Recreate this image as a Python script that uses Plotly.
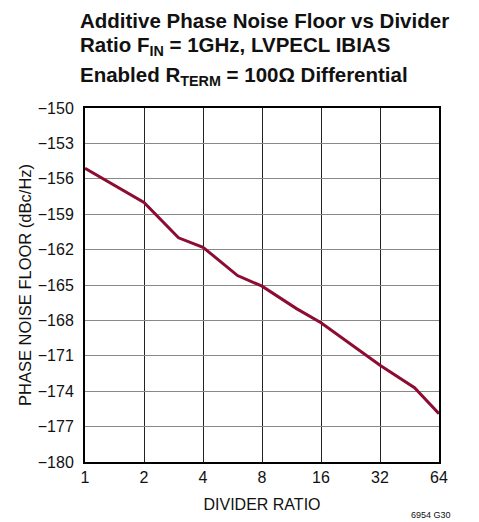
import plotly.graph_objects as go

divider = [1, 2, 3, 4, 6, 8, 12, 16, 32, 48, 64]
noise = [-155.1, -158.0, -161.0, -161.8, -164.2, -165.1, -167.0, -168.2, -171.8, -173.7, -175.9]

x_ticks = [1, 2, 4, 8, 16, 32, 64]
y_ticks = list(range(-180, -149, 3))
y_labels = [str(v).replace("-", "\u2212") for v in y_ticks]

title_lines = [
    "<b>Additive Phase Noise Floor vs Divider</b>",
    "<b>Ratio F<sub>IN</sub> = 1GHz, LVPECL IBIAS</b>",
    "<b>Enabled R<sub>TERM</sub> = 100Ω Differential</b>",
]

FONT = "Liberation Sans Narrow, Arial Narrow, Liberation Sans, Arial"

# page body has an 8px margin, so the figure is offset by (8, 8)
W, H = 471, 514
L, R, T, B = 77, 40, 100, 60
PH = H - T - B


def py(screen_y):
    f = screen_y - 8
    return (H - B - f) / PH


def px(screen_x):
    f = screen_x - 8
    return (f - L) / (W - L - R)


fig = go.Figure()
fig.add_trace(go.Scatter(x=divider, y=noise, mode="lines",
                         line=dict(color="#8C0C32", width=3)))

annotations = []
for txt, yc in zip(title_lines, [20, 46, 76]):
    annotations.append(dict(text=txt, xref="paper", yref="paper",
                            x=px(78), y=py(yc), xanchor="left", yanchor="middle",
                            showarrow=False,
                            font=dict(family=FONT, size=20.5, color="#111")))
annotations.append(dict(text="6954 G30", xref="paper", yref="paper",
                        x=px(431), y=py(515), xanchor="center", yanchor="middle",
                        showarrow=False, font=dict(family=FONT, size=9, color="#111")))

fig.update_layout(
    width=W, height=H,
    margin=dict(l=L, r=R, t=T, b=B),
    paper_bgcolor="white", plot_bgcolor="white",
    showlegend=False,
    font=dict(family=FONT, size=16, color="#111"),
    annotations=annotations,
)
fig.update_xaxes(type="log", range=[0, 1.80618], tickvals=x_ticks,
                 ticktext=[str(v) for v in x_ticks],
                 showgrid=True, gridcolor="#222", gridwidth=1,
                 showline=True, linecolor="black", linewidth=2, mirror=True,
                 ticks="", zeroline=False, tickfont=dict(size=16),
                 ticklabelstandoff=0,
                 title=dict(text="DIVIDER RATIO", font=dict(family=FONT, size=16), standoff=14))
fig.update_yaxes(range=[-180, -150], tickvals=y_ticks, ticktext=y_labels,
                 showgrid=True, gridcolor="#888", gridwidth=1,
                 showline=True, linecolor="black", linewidth=2, mirror=True,
                 ticks="", zeroline=False, tickfont=dict(size=16),
                 ticklabelstandoff=6,
                 title=dict(text="PHASE NOISE FLOOR (dBc/Hz)", font=dict(family=FONT, size=16.5), standoff=2))

fig.write_html("out.html")
